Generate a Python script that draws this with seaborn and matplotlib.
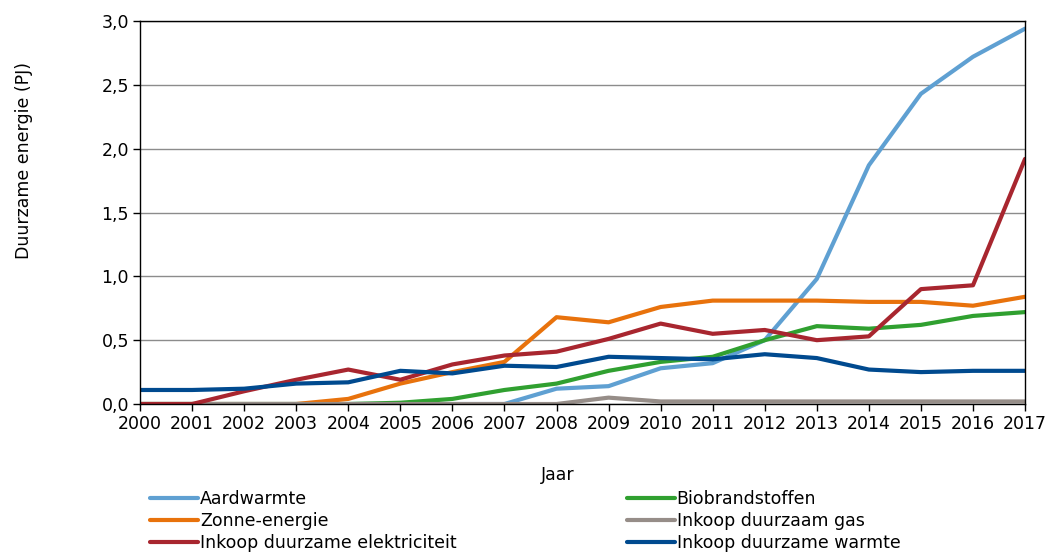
import matplotlib
matplotlib.use("Agg")
from matplotlib import pyplot as plt
from matplotlib.ticker import FuncFormatter
import numpy as np
import pandas as pd
import seaborn as sns

years = list(range(2000, 2018))

aardwarmte = [0, 0, 0, 0, 0, 0, 0, 0, 0.12, 0.14, 0.28, 0.32, 0.50, 0.98, 1.87, 2.43, 2.72, 2.94]
biobrandstoffen = [0, 0, 0, 0, 0, 0.01, 0.04, 0.11, 0.16, 0.26, 0.33, 0.37, 0.50, 0.61, 0.59, 0.62, 0.69, 0.72]
zonne_energie = [0, 0, 0, 0, 0.04, 0.16, 0.25, 0.33, 0.68, 0.64, 0.76, 0.81, 0.81, 0.81, 0.80, 0.80, 0.77, 0.84]
inkoop_gas = [0, 0, 0, 0, 0, 0, 0, 0, 0, 0.05, 0.02, 0.02, 0.02, 0.02, 0.02, 0.02, 0.02, 0.02]
inkoop_elektriciteit = [0, 0, 0.10, 0.19, 0.27, 0.19, 0.31, 0.38, 0.41, 0.51, 0.63, 0.55, 0.58, 0.50, 0.53, 0.90, 0.93, 1.92]
inkoop_warmte = [0.11, 0.11, 0.12, 0.16, 0.17, 0.26, 0.24, 0.30, 0.29, 0.37, 0.36, 0.35, 0.39, 0.36, 0.27, 0.25, 0.26, 0.26]

series = {
    "Aardwarmte": aardwarmte,
    "Biobrandstoffen": biobrandstoffen,
    "Zonne-energie": zonne_energie,
    "Inkoop duurzaam gas": inkoop_gas,
    "Inkoop duurzame elektriciteit": inkoop_elektriciteit,
    "Inkoop duurzame warmte": inkoop_warmte,
}
colors = {
    "Aardwarmte": "#5fa0d2",
    "Biobrandstoffen": "#30a030",
    "Zonne-energie": "#e8720c",
    "Inkoop duurzaam gas": "#968d88",
    "Inkoop duurzame elektriciteit": "#a8262f",
    "Inkoop duurzame warmte": "#004a8f",
}

df = pd.concat([pd.DataFrame({"Jaar": years, "Waarde": v, "Bron": k}) for k, v in series.items()])

sns.set_style("white")
plt.rcParams["font.family"] = ["DejaVu Sans"]
plt.rcParams["text.color"] = "black"

fig = plt.figure(figsize=(10.48, 5.53), dpi=100)
ax = fig.add_axes([0.1336, 0.2694, 0.8445, 0.6926])

sns.lineplot(data=df, x="Jaar", y="Waarde", hue="Bron", hue_order=list(series.keys()),
             palette=colors, linewidth=3, ax=ax, legend=False)

ax.set_xlim(2000, 2017)
ax.set_ylim(0, 3.0)
ax.set_xticks(years)
ax.set_yticks(np.arange(0, 3.01, 0.5))
ax.yaxis.set_major_formatter(FuncFormatter(lambda v, p: f"{v:.1f}".replace(".", ",")))
ax.tick_params(axis="both", labelsize=12.5, direction="out", length=5, width=1, color="black",
               labelcolor="black", bottom=True, left=True, pad=3)
ax.grid(axis="y", color="#8c8c8c", linewidth=1)
ax.set_axisbelow(True)
for s in ax.spines.values():
    s.set_color("black")
    s.set_linewidth(1)

ax.set_xlabel("Jaar", fontsize=12.5, color="black")
ax.set_ylabel("Duurzame energie (PJ)", fontsize=12.5, color="black")
ax.xaxis.set_label_coords(0.472, -0.162)
ax.yaxis.set_label_coords(-0.121, 0.637)

col1 = ["Aardwarmte", "Zonne-energie", "Inkoop duurzame elektriciteit"]
col2 = ["Biobrandstoffen", "Inkoop duurzaam gas", "Inkoop duurzame warmte"]
for col, x0 in [(col1, 0.1431), (col2, 0.598)]:
    handles = [plt.Line2D([], [], color=colors[k], linewidth=3) for k in col]
    fig.legend(handles, col, loc="center left", bbox_to_anchor=(x0, 1 - 521 / 553),
               bbox_transform=fig.transFigure, frameon=False, fontsize=12.5,
               handlelength=2.76, handletextpad=0.12, labelspacing=0.25,
               borderpad=0, borderaxespad=0, labelcolor="black")

fig.savefig("out.png", dpi=100)
